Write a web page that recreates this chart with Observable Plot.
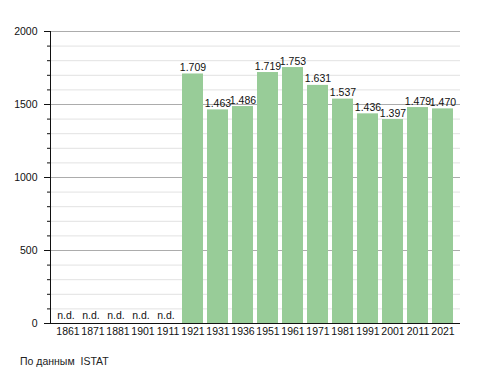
<!DOCTYPE html>
<html>
<head>
<meta charset="utf-8">
<script src="https://cdn.jsdelivr.net/npm/d3@7"></script>
<script src="https://cdn.jsdelivr.net/npm/@observablehq/plot@0.6"></script>
<style>
  body { margin: 0; background: #fff; font-family: "Liberation Sans", Arial, sans-serif; }
  #caption { position: absolute; left: 20px; top: 355px; font-size: 10.5px; color: #222; white-space: pre; }
</style>
</head>
<body>
<div id="chart"></div>
<div id="caption">По данным  ISTAT</div>
<script>
const years = ["1861","1871","1881","1901","1911","1921","1931","1936","1951","1961","1971","1981","1991","2001","2011","2021"];
const population = [null,null,null,null,null,1709,1463,1486,1719,1753,1631,1537,1436,1397,1479,1470];
const majorTicks = [0,500,1000,1500,2000];
const minorTicks = d3.range(0,2001,100);

const data = years.map((y,i) => ({year: y, value: population[i]}));
const fmt = d3.formatLocale({decimal: ",", thousands: ".", grouping: [3], currency: ["",""]}).format(",");

const chart = Plot.plot({
  width: 488,
  height: 345,
  marginLeft: 50,
  marginRight: 28,
  marginTop: 31,
  marginBottom: 22,
  style: {fontFamily: "Liberation Sans, Arial, sans-serif", fontSize: "10.5px", color: "#111", background: "#fff"},
  x: {type: "band", domain: years, padding: 0.18, label: null},
  y: {domain: [0, 2000], label: null},
  marks: [
    Plot.ruleY(minorTicks.filter(v => v % 500 !== 0), {stroke: "#e2e2e2", strokeWidth: 1}),
    Plot.ruleY(majorTicks.filter(v => v > 0), {stroke: "#acacac"}),
    Plot.barY(data.filter(d => d.value != null), {x: "year", y: "value", fill: "#98cc98"}),
    Plot.text(data.filter(d => d.value != null), {x: "year", y: "value", text: d => fmt(d.value), lineAnchor: "bottom", dy: -3, fill: "#111"}),
    Plot.text(data.filter(d => d.value == null), {x: "year", y: 0, text: () => "n.d.", lineAnchor: "bottom", dy: -5, dx: -2, fill: "#111"}),
    Plot.axisY({ticks: minorTicks, tickSize: 3, tickFormat: () => "", stroke: "#111"}),
    Plot.axisY({ticks: majorTicks, tickSize: 6, tickPadding: 7, tickFormat: d => String(d), stroke: "#111"}),
    Plot.axisX({tickSize: 0, tickPadding: 4}),
    Plot.ruleY([0], {stroke: "#111"}),
    Plot.frame({anchor: "left", stroke: "#111"})
  ]
});
document.getElementById("chart").appendChild(chart);
</script>
</body>
</html>
